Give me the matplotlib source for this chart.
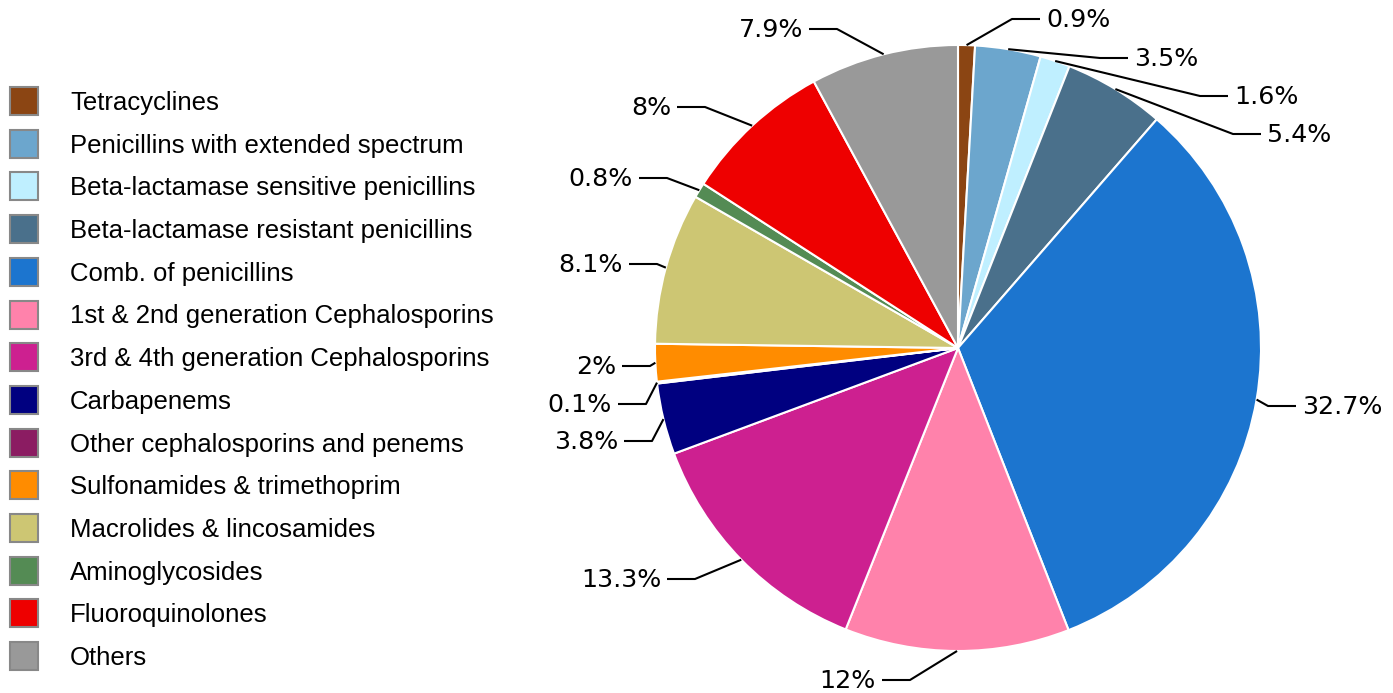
import numpy as np
import matplotlib
matplotlib.use("Agg")
import matplotlib.pyplot as plt
from matplotlib.patches import Rectangle

categories = [
    "Tetracyclines",
    "Penicillins with extended spectrum",
    "Beta-lactamase sensitive penicillins",
    "Beta-lactamase resistant penicillins",
    "Comb. of penicillins",
    "1st & 2nd generation Cephalosporins",
    "3rd & 4th generation Cephalosporins",
    "Carbapenems",
    "Other cephalosporins and penems",
    "Sulfonamides & trimethoprim",
    "Macrolides & lincosamides",
    "Aminoglycosides",
    "Fluoroquinolones",
    "Others",
]
shares = [0.9, 3.5, 1.6, 5.4, 32.7, 12, 13.3, 3.8, 0.1, 2, 8.1, 0.8, 8, 7.9]
colors = ["#8B4513", "#6CA6CD", "#BFEFFF", "#4A708B", "#1C75CF", "#FF82AB",
          "#CD2090", "#000080", "#8B1C62", "#FF8C00", "#CDC673", "#548B54",
          "#EE0000", "#999999"]

# label elbow points (pixel layout, y measured from top)
elbows = [(1012, 19), (1100, 58), (1200, 96), (1233, 134), (1268, 406),
          (910, 680), (695, 579), (652, 441), (646, 404), (650, 366),
          (657, 264), (667, 178), (705, 107), (837, 29)]

W, H = 1393, 693
fig = plt.figure(figsize=(W / 100, H / 100), dpi=100)
ax = fig.add_axes([0, 0, 1, 1])

cx, cy, r = 958, 348, 303
wedges, _ = ax.pie(shares, colors=colors, startangle=-90, counterclock=True,
                   center=(cx, cy), radius=r, frame=True,
                   wedgeprops=dict(edgecolor="white", linewidth=1.5))
ax.set_xlim(0, W)
ax.set_ylim(H, 0)
ax.set_aspect("equal")
ax.axis("off")

for w, v, (ex, ey) in zip(wedges, shares, elbows):
    th = np.deg2rad((w.theta1 + w.theta2) / 2)
    sx, sy = cx + r * np.cos(th), cy + r * np.sin(th)
    side = 1 if ex > cx else -1
    hx = ex + side * 28
    ax.plot([sx, ex, hx], [sy, ey, ey], color="black", lw=1.5,
            solid_capstyle="butt")
    ax.text(hx + side * 6, ey + 1, f"{v:g}%", ha="left" if side > 0 else "right",
            va="center", fontsize=18.2, family="DejaVu Sans")

# legend
for i, (name, c) in enumerate(zip(categories, colors)):
    y = 101 + i * 42.7
    ax.add_patch(Rectangle((10, y - 14), 28, 28, facecolor=c,
                           edgecolor="#888888", lw=1.5))
    ax.text(70, y + 2, name, ha="left", va="center", fontsize=18.5,
            family="Liberation Sans")

fig.savefig("out.png", dpi=100)
